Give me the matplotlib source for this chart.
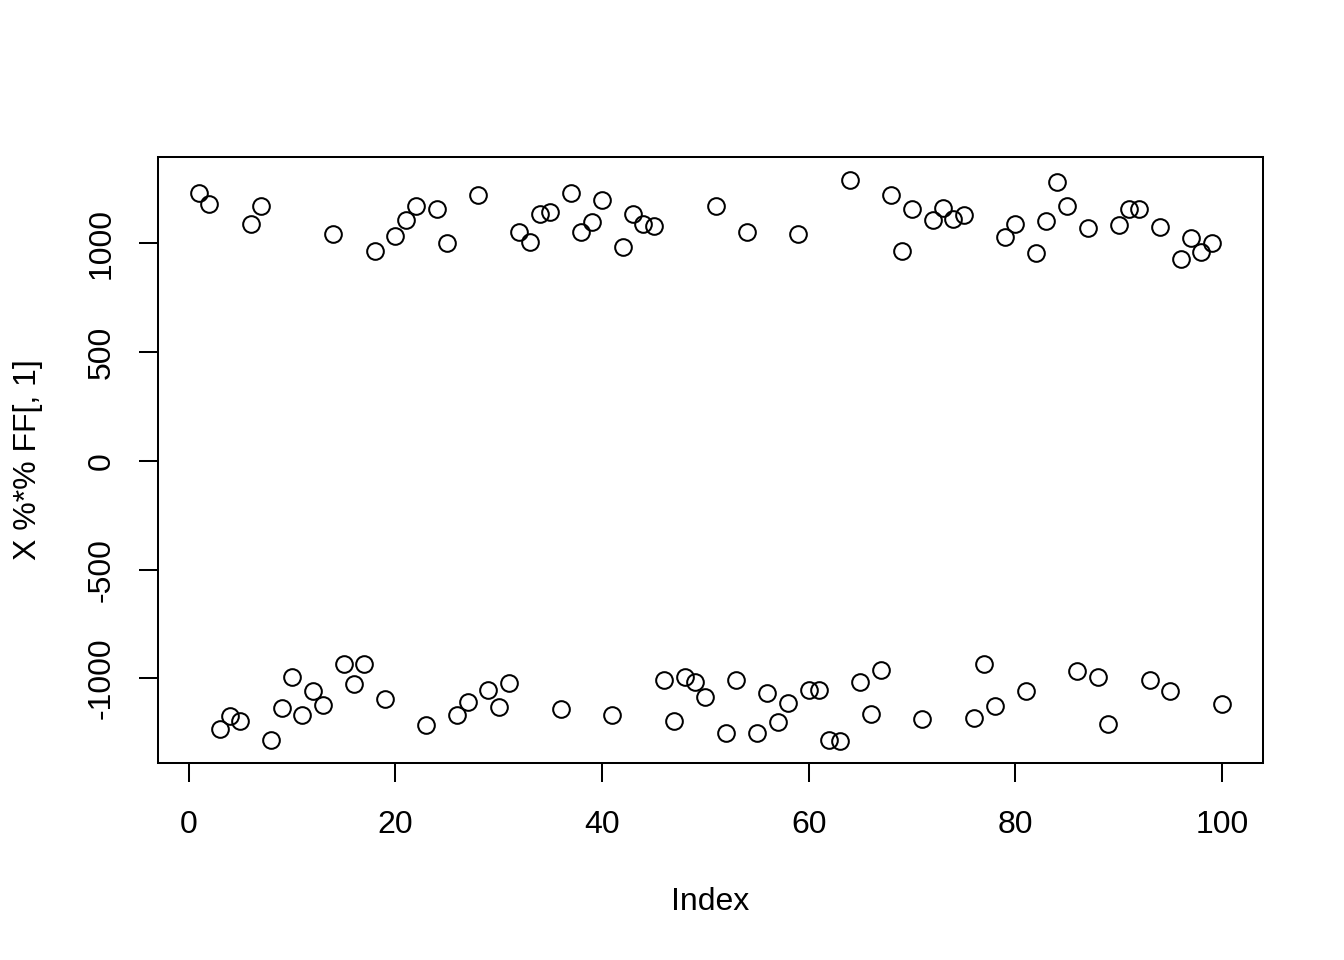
import numpy as np
import matplotlib.pyplot as plt

plt.rcParams['font.family'] = ['Liberation Sans', 'DejaVu Sans']

# values, index 1..100
vals = [1232, 1182, -1232, -1172, -1195, 1090, 1172, -1283, -1136, -993,
        -1168, -1057, -1122, 1044, -933, -1025, -933, 966, -1094, 1034,
        1108, 1172, -1214, 1159, 1000, -1168, -1108, 1223, -1053, -1131,
        -1021, 1053, 1007, 1136, 1145, -1140, 1232, 1053, 1099, 1200,
        -1168, 984, 1136, 1090, 1080, -1007, -1195, -993, -1016, -1085,
        1172, -1251, -1007, 1053, -1251, -1067, -1200, -1113, 1044, -1053,
        -1053, -1283, -1287, 1292, -1016, -1163, -961, 1223, 966, 1159,
        -1186, 1108, 1163, 1113, 1131, -1182, -933, -1126, 1030, 1090,
        -1057, 956, 1103, 1283, 1172, -966, 1071, -993, -1209, 1085,
        1159, 1159, -1007, 1076, -1057, 929, 1025, 961, 1000, -1117]
idx = np.arange(1, len(vals) + 1)

xticks = [0, 20, 40, 60, 80, 100]
yticks = [-1000, -500, 0, 500, 1000]

fig = plt.figure(figsize=(13.44, 9.6), dpi=100)
ax = fig.add_axes([158 / 1344, 1 - 763 / 960, (1263 - 158) / 1344, (763 - 157) / 960])

ax.plot(idx, vals, 'o', mfc='none', mec='black', ms=12, mew=1.45)

ax.set_xlim(-2.96, 103.96)
ax.set_ylim(-1389, 1397)
ax.set_xticks(xticks)
ax.set_yticks(yticks)
ax.set_yticklabels([str(t) for t in yticks], rotation=90, va='center')
ax.tick_params(direction='out', length=13.8, width=1.45, labelsize=23, pad=16)
ax.tick_params(axis='x', pad=20)
for s in ax.spines.values():
    s.set_linewidth(1.45)

ax.set_xlabel('Index', fontsize=23)
ax.set_ylabel('X %*% FF[, 1]', fontsize=23)
ax.xaxis.set_label_coords(0.5, (763 - 902) / (763 - 157))
ax.xaxis.label.set_va('center')
ax.yaxis.set_label_coords((28 - 158) / (1263 - 158), 0.5)
ax.yaxis.label.set_va('center')

fig.savefig('out.png', dpi=100)
